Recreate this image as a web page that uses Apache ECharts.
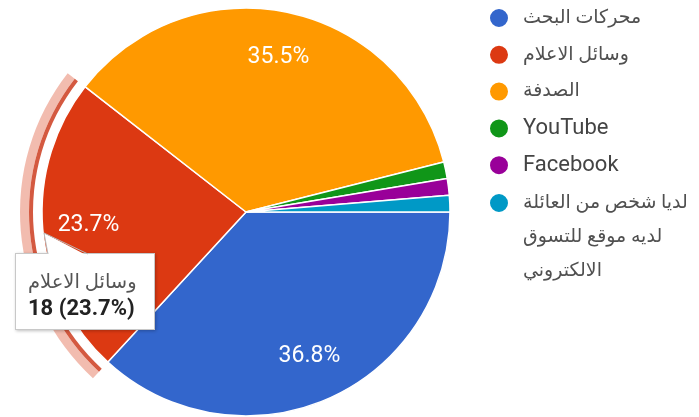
<!DOCTYPE html>
<html>
<head>
<meta charset="utf-8">
<script src="https://cdn.jsdelivr.net/npm/echarts@6/dist/echarts.min.js"></script>
<style>
  html, body { margin: 0; padding: 0; background: #ffffff; }
  #chart { width: 699px; height: 417px; }
</style>
</head>
<body>
<div id="chart"></div>
<script>
// Survey answers: how respondents found out about online shopping
const categories = [
  'محركات البحث',
  'وسائل الاعلام',
  'الصدفة',
  'YouTube',
  'Facebook',
  'لديا شخص من العائلة\nلديه موقع للتسوق\nالالكتروني'
];
const counts = [28, 18, 27, 1, 1, 1];
const colors = ['#3366cc', '#dc3912', '#ff9900', '#109618', '#990099', '#0099c6'];
const focusIndex = 1; // slice shown with the hover ring and the tooltip

const FONT = 'Roboto, "DejaVu Sans", sans-serif';
const CSS_FONT = FONT.replace(/"/g, "'");
const total = counts.reduce((a, b) => a + b, 0);
const pct = v => (v / total * 100).toFixed(1);
const isArabic = s => /[\u0600-\u06FF]/.test(s);

const CENTER = [246, 212];
const R = 204;

const chart = echarts.init(document.getElementById('chart'), null, { renderer: 'canvas' });

const mainData = categories.map((name, i) => ({
  name: name,
  value: counts[i],
  itemStyle: { color: colors[i] }
}));

// Data for the overlay rings / labels: same values, no names
const ringData = (color) => counts.map((v, i) => ({
  value: v,
  itemStyle: { color: i === focusIndex ? color : 'rgba(0,0,0,0)' }
}));

// Legend text: Arabic lines a bit smaller than Latin ones, small indent after the dot
const legendLines = name => name.split('\n')
  .map(line => '{g|}' + (isArabic(line) ? '{ar|' + line + '}' : '{la|' + line + '}'))
  .join('\n');

const legendCommon = {
  orient: 'vertical',
  left: 488,
  padding: 0,
  icon: 'circle',
  itemWidth: 20,
  itemHeight: 20,
  itemGap: 2.8,
  selectedMode: false,
  textStyle: {
    fontFamily: FONT, fontSize: 22, color: '#444', lineHeight: 34,
    rich: {
      g: { width: 9 },
      ar: { fontFamily: FONT, fontSize: 19, color: '#505050', lineHeight: 34 },
      la: { fontFamily: FONT, fontSize: 22, color: '#444', lineHeight: 34 }
    }
  }
};

chart.setOption({
  animation: false,
  backgroundColor: '#ffffff',
  tooltip: {
    trigger: 'item',
    triggerOn: 'none',
    alwaysShowContent: true,
    transitionDuration: 0,
    backgroundColor: '#ffffff',
    borderColor: '#c8c8c8',
    borderWidth: 1,
    padding: [15, 12, 0, 12],
    textStyle: { fontFamily: FONT, fontSize: 16, color: '#555' },
    extraCssText: 'box-shadow:1px 1px 3px rgba(0,0,0,0.25);border-radius:0;width:140px;height:77px;box-sizing:border-box;overflow:visible;white-space:nowrap;',
    position: function () { return [15, 253]; },
    formatter: function (p) {
      const arrow =
        '<svg style="position:absolute;left:26px;top:-22px;overflow:visible" width="50" height="24">' +
        '<polygon points="2,1 6,24 46,24" fill="#ffffff"/>' +
        '<polyline points="6,22 2,1 46,22" fill="none" stroke="#b8b8b8" stroke-width="1"/>' +
        '</svg>';
      return arrow +
        '<div style="font-size:19.5px;color:#555;line-height:26px;font-family:' + CSS_FONT + '">' + p.name + '</div>' +
        '<div style="font-size:22px;font-weight:bold;color:#222;line-height:26px;font-family:' + CSS_FONT + '">' +
        p.value + ' (' + pct(p.value) + '%)</div>';
    }
  },
  legend: [
    Object.assign({}, legendCommon, {
      top: 1,
      data: categories.slice(0, 5),
      formatter: legendLines
    }),
    Object.assign({}, legendCommon, {
      // two blank lines above keep the dot level with the first line
      top: 118,
      data: [categories[5]],
      formatter: name => '\n\n' + legendLines(name)
    })
  ],
  series: [
    {
      name: 'main',
      type: 'pie',
      center: CENTER,
      radius: R,
      startAngle: 0,
      clockwise: true,
      data: mainData,
      label: { show: false },
      labelLine: { show: false },
      emphasis: { disabled: true },
      itemStyle: { borderColor: '#ffffff', borderWidth: 1.5 }
    },
    {
      // thin inner stroke of the hover ring
      type: 'pie',
      center: CENTER,
      radius: [R + 9, R + 13],
      startAngle: 0,
      clockwise: true,
      silent: true,
      tooltip: { show: false },
      data: ringData('rgba(205,60,30,0.85)'),
      label: { show: false },
      labelLine: { show: false },
      emphasis: { disabled: true }
    },
    {
      // soft outer band of the hover ring
      type: 'pie',
      center: CENTER,
      radius: [R + 13, R + 22],
      startAngle: 0,
      clockwise: true,
      silent: true,
      tooltip: { show: false },
      data: ringData('rgba(225,95,65,0.42)'),
      label: { show: false },
      labelLine: { show: false },
      emphasis: { disabled: true }
    },
    {
      // percentage labels placed toward the rim
      type: 'pie',
      center: CENTER,
      radius: [106, R],
      startAngle: 0,
      clockwise: true,
      silent: true,
      z: 3,
      tooltip: { show: false },
      data: counts.map(v => ({ value: v, itemStyle: { color: 'rgba(0,0,0,0)' } })),
      label: {
        show: true,
        position: 'inside',
        color: '#ffffff',
        fontFamily: FONT,
        fontSize: 23,
        formatter: p => (p.value / total > 0.05 ? pct(p.value) + '%' : '')
      },
      labelLine: { show: false },
      emphasis: { disabled: true }
    }
  ]
});

chart.dispatchAction({ type: 'showTip', seriesIndex: 0, dataIndex: focusIndex });
</script>
</body>
</html>
